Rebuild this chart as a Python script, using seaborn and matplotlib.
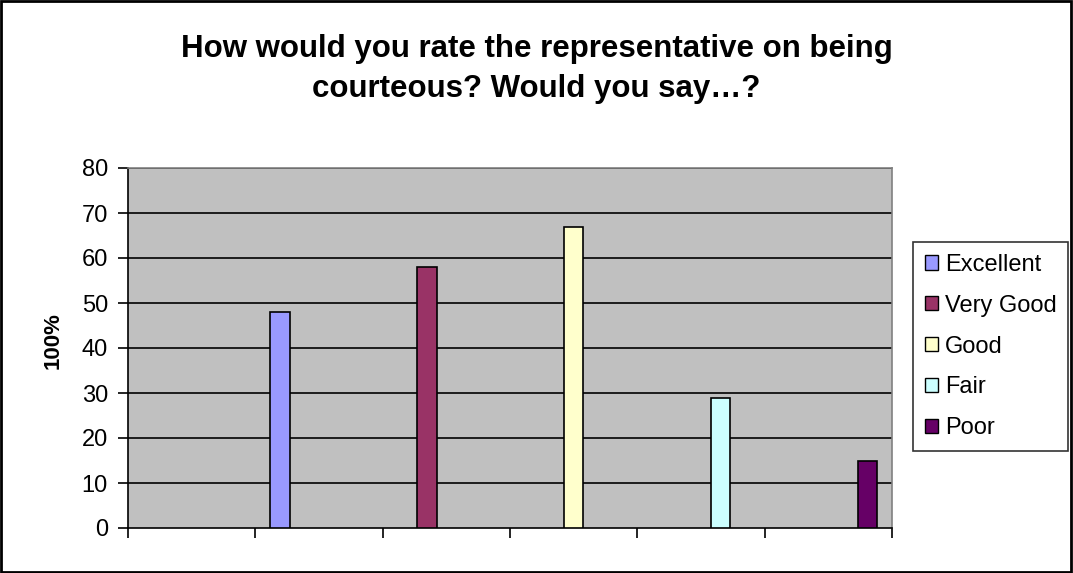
import numpy as np
import matplotlib.pyplot as plt
import seaborn as sns
import pandas as pd

# chart data
responses = ['Excellent', 'Very Good', 'Good', 'Fair', 'Poor']
values = [48, 58, 67, 29, 15]
groups = ['g1', 'g2', 'g3', 'g4', 'g5']
group_order = ['g0', 'g1', 'g2', 'g3', 'g4', 'g5']
colors = ['#9999FF', '#993366', '#FFFFCC', '#CCFFFF', '#660066']
yticks = [0, 10, 20, 30, 40, 50, 60, 70, 80]

df = pd.DataFrame({'group': groups, 'response': responses, 'value': values})

sns.set_style('white')
plt.rcParams['font.family'] = ['Liberation Sans', 'DejaVu Sans']
plt.rcParams['text.color'] = 'black'
plt.rcParams['axes.labelcolor'] = 'black'
plt.rcParams['xtick.color'] = 'black'
plt.rcParams['ytick.color'] = 'black'

fig = plt.figure(figsize=(10.73, 5.73), dpi=100)
ax = fig.add_axes([128 / 1073, 1 - 528 / 573, (892 - 128) / 1073, (528 - 168) / 573])

sns.barplot(data=df, x='group', y='value', hue='response', order=group_order,
            hue_order=responses, palette=colors, width=0.769, dodge=True,
            edgecolor='black', linewidth=1.2, saturation=1, ax=ax, zorder=3)

# plot area styling, excel 2003 look
ax.set_facecolor('#C0C0C0')
ax.set_ylim(0, 80)
ax.set_xlim(-0.5, 5.5)
ax.set_yticks(yticks)
for y in yticks[1:]:
    ax.axhline(y, color='black', lw=1.2, zorder=1)
ax.set_xticks(np.arange(-0.5, 6.0, 1.0))
ax.set_xticklabels([])
ax.tick_params(axis='both', direction='out', length=7.5, width=1.2, color='black',
               labelsize=17, pad=7, left=True, bottom=True)
ax.spines['left'].set_color('black')
ax.spines['bottom'].set_color('black')
ax.spines['top'].set_color('#808080')
ax.spines['right'].set_color('#808080')
for s in ax.spines.values():
    s.set_linewidth(1.2)
ax.set_xlabel('')
ax.set_ylabel('100%', fontsize=16, fontweight='bold')
ax.yaxis.set_label_coords(-0.084, 0.52)

ax.legend_.remove()
handles = [plt.Rectangle((0, 0), 1, 1, facecolor=c, edgecolor='black', lw=1) for c in colors]
leg = fig.legend(handles, responses, loc='upper left',
                 bbox_to_anchor=(913 / 1073, 1 - 242 / 573), borderaxespad=0,
                 fontsize=17, frameon=True, fancybox=False, edgecolor='black',
                 handlelength=0.55, handleheight=0.55, handletextpad=0.3,
                 labelspacing=0.8, borderpad=0.5)
leg.get_frame().set_linewidth(1.2)

fig.text(0.5, 1 - 69 / 573, 'How would you rate the representative on being\ncourteous? Would you say\u2026?',
         ha='center', va='center', fontsize=22.5, fontweight='bold', linespacing=1.4)

# outer chart border
fig.patches.append(plt.Rectangle((0.001, 0.002), 0.997, 0.996, transform=fig.transFigure,
                                 fill=False, edgecolor='black', lw=2))

fig.savefig('out.png', dpi=100)
